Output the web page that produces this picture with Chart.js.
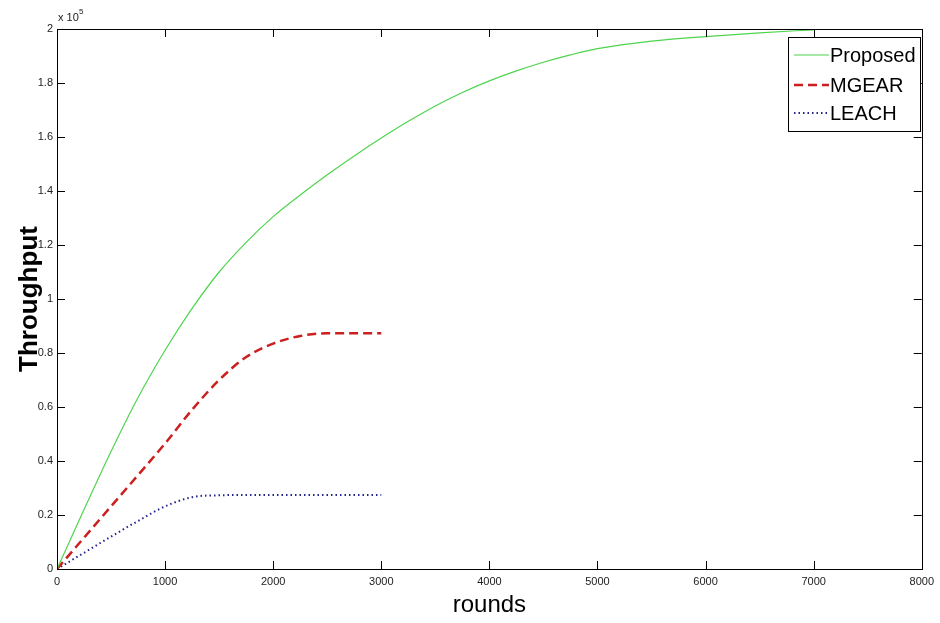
<!DOCTYPE html>
<html>
<head>
<meta charset="utf-8">
<script src="https://cdn.jsdelivr.net/npm/chart.js@4/dist/chart.umd.min.js"></script>
<style>
  html, body { margin: 0; padding: 0; background: #fff; }
  #wrap { width: 940px; height: 623px; }
</style>
</head>
<body>
<div id="wrap"><canvas id="chart" width="940" height="623"></canvas></div>
<script>
// throughput values are in units of 1e5 (axis shows "x 10^5")
const proposedRounds = [0, 250, 500, 750, 1000, 1250, 1500, 1750, 2000, 2250, 2500, 2750, 3000, 3250, 3500, 3750, 4000, 4250, 4500, 4750, 5000, 5500, 6000, 6500, 7000];
const proposedValues = [0, 0.22, 0.435, 0.635, 0.81, 0.965, 1.10, 1.21, 1.305, 1.385, 1.46, 1.53, 1.596, 1.658, 1.715, 1.765, 1.808, 1.845, 1.877, 1.904, 1.927, 1.955, 1.972, 1.986, 1.997];

const mgearRounds = [0, 250, 500, 750, 1000, 1250, 1500, 1750, 2000, 2250, 2500, 2750, 3000];
const mgearValues = [0, 0.116, 0.232, 0.348, 0.465, 0.59, 0.70, 0.785, 0.835, 0.863, 0.873, 0.873, 0.873];

const leachRounds = [0, 250, 500, 750, 1000, 1250, 1500, 1750, 2000, 2500, 3000];
const leachValues = [0, 0.06, 0.12, 0.178, 0.232, 0.266, 0.273, 0.274, 0.274, 0.274, 0.274];

const xTicks = [0, 1000, 2000, 3000, 4000, 5000, 6000, 7000, 8000];
const yTicks = [0, 0.2, 0.4, 0.6, 0.8, 1, 1.2, 1.4, 1.6, 1.8, 2];

function toPoints(xs, ys) {
    return xs.map((x, i) => ({x: x, y: ys[i]}));
}

// MATLAB style box with inward ticks, exponent label and boxed legend
const matlabFrame = {
    id: 'matlabFrame',
    afterDraw(chart) {
        const ctx = chart.ctx;
        const a = chart.chartArea;
        const xs = chart.scales.x, ys = chart.scales.y;
        const tl = 8;
        ctx.save();
        ctx.strokeStyle = '#000';
        ctx.lineWidth = 1;
        ctx.strokeRect(Math.round(a.left) + 0.5, Math.round(a.top) + 0.5, Math.round(a.right - a.left), Math.round(a.bottom - a.top));
        ctx.beginPath();
        xTicks.forEach(v => {
            const px = Math.round(xs.getPixelForValue(v)) + 0.5;
            ctx.moveTo(px, a.bottom); ctx.lineTo(px, a.bottom - tl);
            ctx.moveTo(px, a.top); ctx.lineTo(px, a.top + tl);
        });
        yTicks.forEach(v => {
            const py = Math.round(ys.getPixelForValue(v)) + 0.5;
            ctx.moveTo(a.left, py); ctx.lineTo(a.left + tl, py);
            ctx.moveTo(a.right, py); ctx.lineTo(a.right - tl, py);
        });
        ctx.stroke();

        // exponent
        ctx.fillStyle = '#222';
        ctx.font = '11px "Liberation Sans", Arial, sans-serif';
        ctx.textBaseline = 'alphabetic';
        ctx.textAlign = 'left';
        ctx.fillText('x 10', a.left + 1, a.top - 8);
        ctx.font = '8px "Liberation Sans", Arial, sans-serif';
        ctx.fillText('5', a.left + 22, a.top - 15);

        // legend
        const bx = 788, by = 37, bw = 132, bh = 94;
        ctx.fillStyle = '#fff';
        ctx.fillRect(bx, by, bw, bh);
        ctx.strokeStyle = '#000';
        ctx.strokeRect(bx + 0.5, by + 0.5, bw, bh);
        ctx.font = '20px "Liberation Sans", Arial, sans-serif';
        ctx.textBaseline = 'middle';
        const rowsY = [55, 85, 113];
        chart.data.datasets.forEach((ds, i) => {
            const y = rowsY[i];
            ctx.save();
            ctx.strokeStyle = ds.borderColor;
            ctx.lineWidth = ds.borderWidth;
            ctx.setLineDash(ds.borderDash || []);
            ctx.beginPath();
            ctx.moveTo(794, y);
            ctx.lineTo(829, y);
            ctx.stroke();
            ctx.restore();
            ctx.fillStyle = '#000';
            ctx.fillText(ds.label, 830, y + 1);
        });
        ctx.restore();
    }
};

new Chart(document.getElementById('chart'), {
    type: 'line',
    data: {
        datasets: [{
            label: 'Proposed',
            data: toPoints(proposedRounds, proposedValues),
            borderColor: '#4fd44f',
            borderWidth: 1.2,
            pointRadius: 0,
            cubicInterpolationMode: 'monotone'
        }, {
            label: 'MGEAR',
            data: toPoints(mgearRounds, mgearValues),
            borderColor: '#cc1f1f',
            borderWidth: 2.5,
            borderDash: [9, 5],
            pointRadius: 0,
            cubicInterpolationMode: 'monotone'
        }, {
            label: 'LEACH',
            data: toPoints(leachRounds, leachValues),
            borderColor: '#23238f',
            borderWidth: 2,
            borderDash: [1.5, 3],
            pointRadius: 0,
            cubicInterpolationMode: 'monotone'
        }]
    },
    options: {
        responsive: false,
        animation: false,
        layout: { padding: { top: 29, right: 18, left: 0, bottom: 0 } },
        plugins: {
            legend: { display: false },
            tooltip: { enabled: false }
        },
        scales: {
            x: {
                type: 'linear',
                min: 0,
                max: 8000,
                afterBuildTicks: s => { s.ticks = xTicks.map(v => ({value: v})); },
                afterFit: s => { s.height = 54; },
                grid: { display: false, drawTicks: false },
                border: { display: false },
                ticks: {
                    padding: 6,
                    maxRotation: 0,
                    color: '#222',
                    font: { family: '"Liberation Sans", Arial, sans-serif', size: 11 },
                    callback: v => String(v)
                },
                title: {
                    display: true,
                    text: 'rounds',
                    color: '#000',
                    font: { family: '"Liberation Sans", Arial, sans-serif', size: 24 },
                    padding: { top: 0, bottom: 3 }
                }
            },
            y: {
                type: 'linear',
                min: 0,
                max: 2,
                afterBuildTicks: s => { s.ticks = yTicks.map(v => ({value: v})); },
                afterFit: s => { s.width = 57; },
                grid: { display: false, drawTicks: false },
                border: { display: false },
                ticks: {
                    padding: 4,
                    color: '#222',
                    font: { family: '"Liberation Sans", Arial, sans-serif', size: 11 },
                    callback: v => String(v)
                },
                title: {
                    display: true,
                    text: 'Throughput',
                    color: '#000',
                    font: { family: '"Liberation Sans", Arial, sans-serif', size: 26, weight: 'bold' },
                    padding: { top: 14, bottom: 0 }
                }
            }
        }
    },
    plugins: [matlabFrame]
});
</script>
</body>
</html>
